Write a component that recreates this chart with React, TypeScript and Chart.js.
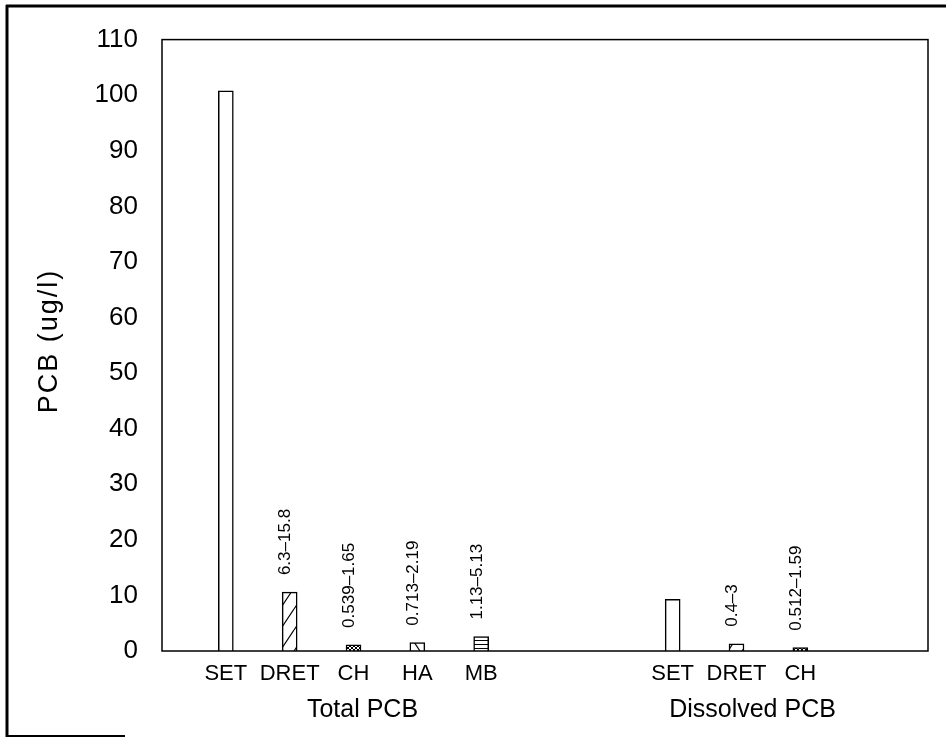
import React, { useEffect, useRef } from 'react';
import { Chart, registerables } from 'chart.js';

Chart.register(...registerables);

// ---- data ----
const totalCategories = ['SET', 'DRET', 'CH', 'HA', 'MB'];
const totalValues = [100.8, 10.6, 1.1, 1.5, 2.6];
const totalRanges = ['', '6.3–15.8', '0.539–1.65', '0.713–2.19', '1.13–5.13'];
const totalFills = ['blank', 'slash', 'cross', 'backslash', 'horizontal'];

const dissolvedCategories = ['SET', 'DRET', 'CH'];
const dissolvedValues = [9.3, 1.3, 0.6];
const dissolvedRanges = ['', '0.4–3', '0.512–1.59'];
const dissolvedFills = ['blank', 'slash', 'cross'];

const groupLabels = ['Total PCB', 'Dissolved PCB'];
const yTickValues = [0, 10, 20, 30, 40, 50, 60, 70, 80, 90, 100, 110];
const yTitle = 'PCB (ug/l)';

// slots: 1 blank, total group, 2 blanks, dissolved group, 2 blanks
const labels = ['', ...totalCategories, '', '', ...dissolvedCategories, '', ''];
const values: (number | null)[] = [null, ...totalValues, null, null, ...dissolvedValues, null, null];
const ranges = ['', ...totalRanges, '', '', ...dissolvedRanges, '', ''];
const fills = ['blank', ...totalFills, 'blank', 'blank', ...dissolvedFills, 'blank', 'blank'];
const groupSpans = [
  [1, totalCategories.length],
  [totalCategories.length + 3, totalCategories.length + 2 + dissolvedCategories.length],
];

const FONT = '"Liberation Sans", Arial, Helvetica, sans-serif';

function makePattern(kind: string): CanvasPattern | string {
  if (kind === 'blank') return '#ffffff';
  const c = document.createElement('canvas');
  let w = 4, h = 4;
  if (kind === 'slash' || kind === 'backslash') { w = 14; h = 21; }
  c.width = w; c.height = h;
  const ctx = c.getContext('2d')!;
  ctx.fillStyle = '#fff';
  ctx.fillRect(0, 0, w, h);
  ctx.strokeStyle = '#000';
  ctx.lineWidth = 1.2;
  ctx.beginPath();
  if (kind === 'slash') {
    ctx.moveTo(0, h); ctx.lineTo(w, 0);
    ctx.moveTo(-w, h); ctx.lineTo(0, 0);
    ctx.moveTo(w, h); ctx.lineTo(2 * w, 0);
  } else if (kind === 'backslash') {
    ctx.moveTo(0, 0); ctx.lineTo(w, h);
    ctx.moveTo(-w, 0); ctx.lineTo(0, h);
    ctx.moveTo(w, 0); ctx.lineTo(2 * w, h);
  } else if (kind === 'cross') {
    ctx.lineWidth = 1;
    ctx.moveTo(0, 0); ctx.lineTo(w, h);
    ctx.moveTo(w, 0); ctx.lineTo(0, h);
  } else if (kind === 'horizontal') {
    ctx.lineWidth = 1;
    ctx.moveTo(0, 0.5); ctx.lineTo(w, 0.5);
  }
  ctx.stroke();
  return ctx.createPattern(c, 'repeat')!;
}

const extrasPlugin = {
  id: 'extras',
  afterDatasetsDraw(chart: any) {
    const ctx = chart.ctx as CanvasRenderingContext2D;
    const meta = chart.getDatasetMeta(0);
    ctx.save();
    ctx.fillStyle = '#000';
    ctx.font = `17px ${FONT}`;
    ctx.textAlign = 'left';
    ctx.textBaseline = 'middle';
    ranges.forEach((txt, i) => {
      if (!txt) return;
      const el = meta.data[i];
      if (!el) return;
      ctx.save();
      ctx.translate(el.x - 4, el.y - 17);
      ctx.rotate(-Math.PI / 2);
      ctx.fillText(txt, 0, 0);
      ctx.restore();
    });
    ctx.restore();
  },
  afterDraw(chart: any) {
    const ctx = chart.ctx as CanvasRenderingContext2D;
    const a = chart.chartArea;
    const xs = chart.scales.x;
    ctx.save();
    // plot box
    ctx.strokeStyle = '#000';
    ctx.lineWidth = 1.5;
    ctx.strokeRect(a.left, a.top, a.right - a.left, a.bottom - a.top);

    // group labels
    ctx.fillStyle = '#000';
    ctx.font = `25px ${FONT}`;
    ctx.textAlign = 'center';
    ctx.textBaseline = 'middle';
    const shifts = [9, 16];
    groupLabels.forEach((g, i) => {
      const [s, e] = groupSpans[i];
      const cx = (xs.getPixelForValue(s) + xs.getPixelForValue(e)) / 2 + shifts[i];
      ctx.fillText(g, cx, 710);
    });

    // y title
    ctx.save();
    ctx.translate(50, 341);
    ctx.rotate(-Math.PI / 2);
    ctx.font = `27px ${FONT}`;
    (ctx as any).letterSpacing = '2px';
    ctx.fillText(yTitle, 0, 0);
    ctx.restore();

    // outer frame
    ctx.lineWidth = 3;
    ctx.beginPath();
    ctx.moveTo(6, 6); ctx.lineTo(946, 6);
    ctx.moveTo(7, 5); ctx.lineTo(7, 737);
    ctx.stroke();
    ctx.lineWidth = 2;
    ctx.beginPath();
    ctx.moveTo(6, 736); ctx.lineTo(125, 736);
    ctx.stroke();
    ctx.restore();
  },
};

export default function App() {
  const ref = useRef<HTMLCanvasElement | null>(null);
  useEffect(() => {
    if (!ref.current) return;
    const bg = fills.map(makePattern);
    const chart = new Chart(ref.current, {
      type: 'bar',
      data: {
        labels,
        datasets: [
          {
            data: values as any,
            backgroundColor: bg as any,
            borderColor: '#000',
            borderWidth: 1.5,
            barThickness: 15,
          },
        ],
      },
      options: {
        animation: false,
        responsive: false,
        layout: { padding: { top: 38, right: 18, left: 0, bottom: 0 } },
        plugins: { legend: { display: false }, tooltip: { enabled: false } },
        scales: {
          x: {
            type: 'category',
            offset: false,
            grid: { display: false, drawTicks: false },
            border: { display: false },
            ticks: {
              autoSkip: false,
              maxRotation: 0,
              minRotation: 0,
              padding: 10,
              color: '#000',
              font: { family: FONT, size: 22 },
            },
            afterFit: (s: any) => { s.height = 738 - 651; },
          },
          y: {
            min: 0,
            max: 110,
            grid: { display: false, drawTicks: false },
            border: { display: false },
            ticks: {
              padding: 24,
              color: '#000',
              font: { family: FONT, size: 26 },
            },
            afterBuildTicks: (s: any) => { s.ticks = yTickValues.map((v) => ({ value: v })); },
            afterFit: (s: any) => { s.width = 162; },
          },
        },
      },
      plugins: [extrasPlugin],
    });
    return () => chart.destroy();
  }, []);
  return (
    <div style={{ position: 'absolute', left: 0, top: 0, width: 946, height: 738, background: '#fff' }}>
      <canvas ref={ref} width={946} height={738} style={{ width: 946, height: 738, display: 'block' }} />
    </div>
  );
}
